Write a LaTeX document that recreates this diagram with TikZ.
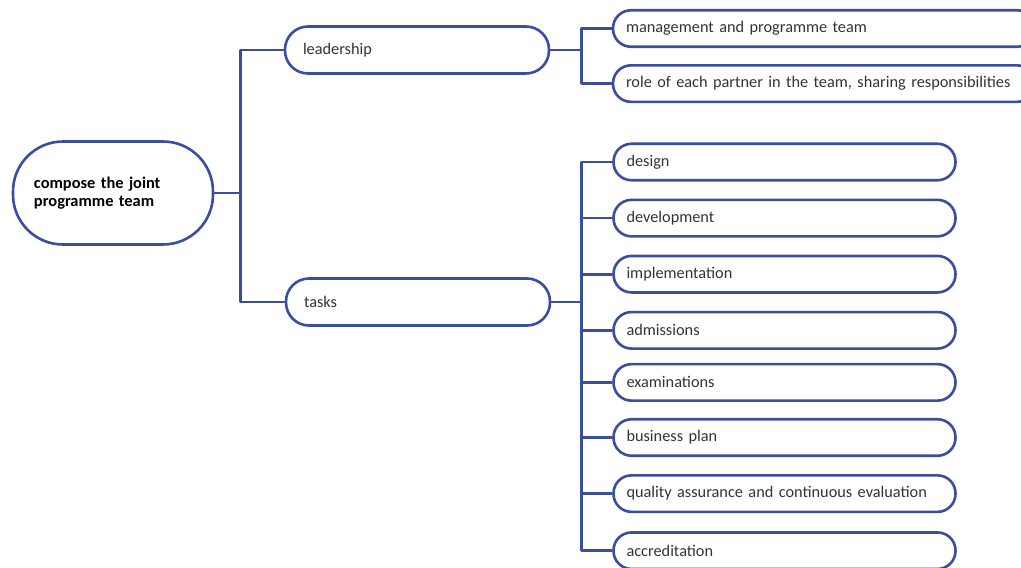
\documentclass[tikz,border=0pt]{standalone}
\usepackage{fontspec}
\setmainfont{Carlito}
\usetikzlibrary{positioning}
\definecolor{teamBlue}{HTML}{3A4DA0}
\definecolor{labelGrey}{HTML}{333333}

\begin{document}
\begin{tikzpicture}[x=1pt,y=1pt,
        topic/.style={draw=teamBlue,line width=2.6pt,rounded corners=18pt,minimum height=36.5pt,
        inner xsep=13pt,inner ysep=0pt,align=left,text=labelGrey,font=\fontsize{16.3}{19}\selectfont},
        branch/.style={topic,minimum height=47pt,rounded corners=23pt,inner xsep=18pt,text width=228pt},
        task/.style={topic,text width=316pt},
        link/.style={draw=teamBlue,line width=2.6pt,line join=round}]
        \useasboundingbox (0,0) rectangle (1021,-568);
        \node[topic,minimum height=103pt,rounded corners=50pt,inner xsep=21pt,text width=158pt,
            font=\fontsize{16.4}{17.5}\selectfont\bfseries,text=black] (root) at (113,-193)
            {compose the joint\\programme team};
        \node[branch] (lead) at (417,-50) {leadership};
        \node[branch] (tasks) at (418,-302) {tasks};
        \node[topic,text width=396pt] (mgmt) at (824,-28.5) {management and programme team};
        \node[topic,text width=396pt,below=16pt of mgmt] (role) {role of each partner in the team, sharing responsibilities};
        \node[task] (design) at (784.5,-162) {design};
        \node[task,below=17pt of design] (devel) {development};
        \node[task,below=17pt of devel] (impl) {implementation};
        \node[task,below=17pt of impl] (adm) {admissions};
        \node[task,below=13pt of adm] (exam) {examinations};
        \node[task,below=16pt of exam] (biz) {business plan};
        \node[task,below=17pt of biz] (qual) {quality assurance and continuous evaluation};
        \node[task,below=18pt of qual] (accr) {accreditation};
        % connectors
        \draw[link] (root.east) -- ++(26,0) coordinate (rootfork) |- (lead.west);
        \draw[link] (rootfork) |- (tasks.west);
        \draw[link] (lead.east) -- ++(31,0) coordinate (leadfork) |- (mgmt.west);
        \draw[link] (leadfork) |- (role.west);
        \draw[link] (tasks.east) -- ++(30,0) coordinate (taskfork);
        \foreach \n in {design,devel,impl,adm,exam,biz,qual,accr}
            \draw[link] (taskfork) |- (\n.west);
    \end{tikzpicture}
\end{document}
